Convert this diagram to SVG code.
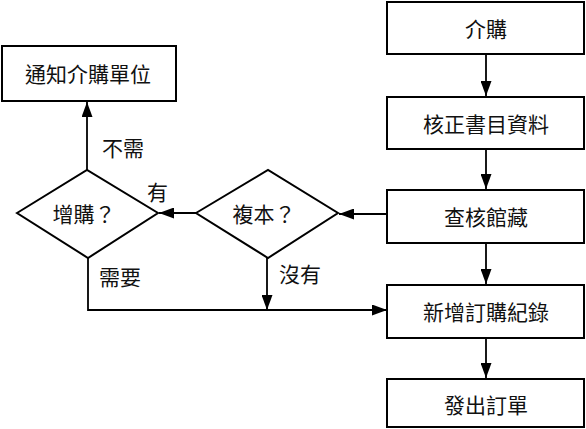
<svg xmlns="http://www.w3.org/2000/svg" width="586" height="429" viewBox="0 0 586 429">
<style>
.box{fill:#fff;stroke:#000;stroke-width:2}
.t{font-family:"Noto Sans CJK TC","Noto Sans CJK SC",sans-serif;font-size:21px;fill:#111;text-anchor:middle;dominant-baseline:central}
.l{font-family:"Noto Sans CJK TC","Noto Sans CJK SC",sans-serif;font-size:21px;fill:#111;dominant-baseline:central}
.c{fill:none;stroke:#000;stroke-width:1.8}
</style>
<defs>
<marker id="ah" viewBox="0 0 15 11" refX="15" refY="5.5" markerWidth="15" markerHeight="11" markerUnits="userSpaceOnUse" orient="auto">
<path d="M0,0 L15,5.5 L0,11 Z" fill="#000"/>
</marker>
</defs>
<rect width="586" height="429" fill="#fff"/>
<g id="connectors">
<path class="c" d="M486,54 V96" marker-end="url(#ah)"/>
<path class="c" d="M486,149 V189" marker-end="url(#ah)"/>
<path class="c" d="M486,243 V284" marker-end="url(#ah)"/>
<path class="c" d="M486,338 V378" marker-end="url(#ah)"/>
<path class="c" d="M387,214 H339" marker-end="url(#ah)"/>
<path class="c" d="M196,213 H159" marker-end="url(#ah)"/>
<path class="c" d="M87,170 V102" marker-end="url(#ah)"/>
<path class="c" d="M267,258 V310" marker-end="url(#ah)"/>
<path class="c" d="M88,258 V310 H387" marker-end="url(#ah)"/>
<text class="l" x="102" y="147">不需</text>
<text class="l" x="147" y="191">有</text>
<text class="l" x="99" y="276">需要</text>
<text class="l" x="279" y="273">沒有</text>
</g>
<g id="n1"><rect class="box" x="387" y="2" width="197" height="52"/><text class="t" x="486" y="28">介購</text></g>
<g id="n2"><rect class="box" x="387" y="97" width="197" height="52"/><text class="t" x="486" y="123">核正書目資料</text></g>
<g id="n3"><rect class="box" x="387" y="190" width="197" height="53"/><text class="t" x="486" y="216">查核館藏</text></g>
<g id="n4"><rect class="box" x="387" y="285" width="197" height="53"/><text class="t" x="486" y="311">新增訂購紀錄</text></g>
<g id="n5"><rect class="box" x="387" y="379" width="197" height="48"/><text class="t" x="486" y="404">發出訂單</text></g>
<g id="n6"><rect class="box" x="2" y="46" width="174" height="55"/><text class="t" x="88" y="73">通知介購單位</text></g>
<g id="d1"><path class="box" d="M17,213 L87,170 L158,213 L88,258 Z"/><text class="t" x="84" y="213">增購？</text></g>
<g id="d2"><path class="box" d="M196,213 L268,170 L338,213 L268,258 Z"/><text class="t" x="264" y="213">複本？</text></g>
</svg>
